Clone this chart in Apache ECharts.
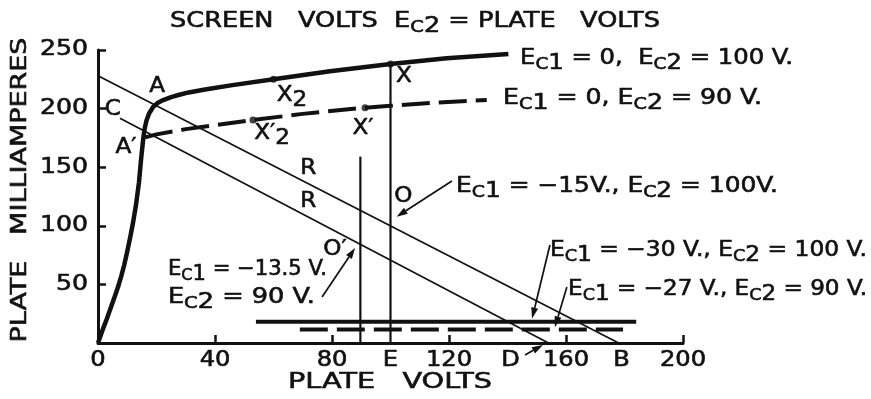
<!DOCTYPE html>
<html>
<head>
<meta charset="utf-8">
<script src="https://cdn.jsdelivr.net/npm/echarts@6/dist/echarts.min.js"></script>
<style>
  html, body { margin: 0; padding: 0; background: #fff; }
  #c { width: 871px; height: 399px; }
</style>
</head>
<body>
<div id="c"></div>
<script>
// Plate current (mA) against plate volts, screen tied to plate.
const curve100 = [[0,0],[1,7],[2,14],[3,20.5],[4,27.5],[5,34.5],[6,41.5],[7,49],[8,57.5],[9,67],
  [10,78],[11,90],[12,103],[13,118],[14,137],[14.7,156],[15.2,168],[15.6,177],[16.0,183.5],
  [16.6,190],[17.5,196],[18.9,201.6],[20.5,205],[22.3,207.3],[25,209.8],[27.5,211.6],[31,213.8],
  [36.6,216.3],[45.4,219.8],[60,225],[79.3,231.8],[100,238],[119.2,243],[140.3,246.6]];
const curve90 = [[16.1,175.5],[20,178],[30,182.5],[44.8,187.5],[53,190.3],[70,195.5],[91.3,200.8],
  [100,202.4],[115,205],[132.9,207.3]];
const loadLineB = [[0,228],[178,0]];
const loadLineD = [[7.5,191.7],[154,0]];
const ordinateE = [[100,238],[100,0]];
const ordinate90 = [[89.7,159],[89.7,0]];
const cutoff100 = [[54,18.2],[184,18.2]];
const cutoff90 = [[69,11.5],[179.5,11.5]];
const markedPoints = [[60,225],[100,238],[53,190.3],[91.3,200.8]];

const xTickValues = [0, 40, 80, 100, 120, 141, 160, 179, 200];
const xTickLabels = ['0', '40', '80', 'E', '120', 'D', '160', 'B', '200'];
const yTickValues = [50, 100, 150, 200, 250];
const yTickLabels = ['50', '100', '150', '200', '250'];

const ink = '#111';
const FAMILY = '"DejaVu Sans", sans-serif';

const chart = echarts.init(document.getElementById('c'));

function lineSeries(data, width, dash) {
  return {
    type: 'line', data, showSymbol: false, symbol: 'none', silent: true,
    smooth: false, animation: false, z: 3,
    lineStyle: { color: ink, width, type: dash || 'solid', cap: 'butt', join: 'round' }
  };
}

const axisCommon = {
  type: 'value',
  axisLine: { show: true, lineStyle: { color: ink, width: 3 } },
  axisTick: { show: true, inside: true, length: 8, lineStyle: { color: ink, width: 2.5 } },
  axisLabel: { show: false },
  splitLine: { show: false }
};

chart.setOption({
  animation: false,
  backgroundColor: '#fff',
  grid: { left: 98, right: 188, top: 50, bottom: 56 },
  xAxis: Object.assign({}, axisCommon, { min: 0, max: 200, interval: 40 }),
  yAxis: Object.assign({}, axisCommon, { min: 0, max: 250, interval: 50 }),
  series: [
    lineSeries(curve100, 4.5),
    lineSeries(curve90, 4, [28, 9]),
    lineSeries(loadLineB, 1.7),
    lineSeries(loadLineD, 1.7),
    lineSeries(ordinateE, 2.2),
    lineSeries(ordinate90, 2.2),
    lineSeries(cutoff100, 4),
    lineSeries(cutoff90, 4, [28, 9]),
    { type: 'scatter', data: markedPoints, symbolSize: 7, silent: true,
      itemStyle: { color: ink }, z: 5 }
  ]
});

// ---- lettering ----
const BASE = 21;
const RICH_DEF = {
  b: { size: 21, pad: 0 },   // capitals and figures
  c: { size: 16, pad: 8 },   // small "C" of Ec
  s: { size: 21, pad: 5 },   // subscript figure
  p: { size: 21, pad: 0 }    // prime
};
const mctx = document.createElement('canvas').getContext('2d');
function richStyles() {
  const r = {};
  for (const k in RICH_DEF) {
    r[k] = { fontSize: RICH_DEF[k].size, fontFamily: FAMILY, fill: ink,
             stroke: ink, lineWidth: 0.6,
             padding: [RICH_DEF[k].pad, 0, 0, 0], verticalAlign: 'top' };
  }
  return r;
}
function measure(parts) {
  let w = 0;
  for (const [t, k] of parts) {
    mctx.font = RICH_DEF[k].size + 'px ' + FAMILY;
    w += mctx.measureText(t).width;
  }
  return w;
}
function textEl(parts, px, py, o) {
  o = o || {};
  const sx = o.width ? o.width / measure(parts) : (o.scale || 1.2);
  return {
    type: 'text', x: px, y: py, rotation: o.rotation || 0, scaleX: sx, z: 100, silent: true,
    style: {
      text: parts.map(([t, k]) => '{' + k + '|' + t + '}').join(''),
      rich: richStyles(), x: 0, y: -BASE / 2, align: o.align || 'center', verticalAlign: 'top',
      fill: ink, font: BASE + 'px ' + FAMILY
    }
  };
}
const ec = n => [['E', 'b'], ['C', 'c'], [n, 's']];
const px = p => chart.convertToPixel({ gridIndex: 0 }, p);

function arrow(from, to) {
  const a = px(from), b = px(to);
  const dx = b[0] - a[0], dy = b[1] - a[1], L = Math.hypot(dx, dy);
  const ux = dx / L, uy = dy / L, hl = 11, hw = 3.5;
  const bx = b[0] - ux * hl, by = b[1] - uy * hl;
  return [
    { type: 'line', z: 90, silent: true, shape: { x1: a[0], y1: a[1], x2: bx, y2: by },
      style: { stroke: ink, lineWidth: 1.7 } },
    { type: 'polygon', z: 90, silent: true,
      shape: { points: [[b[0], b[1]], [bx - uy * hw, by + ux * hw], [bx + uy * hw, by - ux * hw]] },
      style: { fill: ink } }
  ];
}

const g = [];
// title and axis names
g.push(textEl([['SCREEN   VOLTS  ', 'b'], ...ec('2'), [' = PLATE   VOLTS', 'b']], 415, 22, { width: 490 }));
g.push(textEl([['PLATE   VOLTS', 'b']], 390, 383, { width: 204 }));
g.push(textEl([['PLATE   MILLIAMPERES', 'b']], 21, 190, { width: 305, rotation: Math.PI / 2 }));

// tick labels
xTickValues.forEach((v, i) => {
  const p = px([v, 0]);
  g.push(textEl([[xTickLabels[i], 'b']], p[0], 361, { scale: 1.15 }));
});
yTickValues.forEach((v, i) => {
  const p = px([0, v]);
  g.push(textEl([[yTickLabels[i], 'b']], 88, p[1], { scale: 1.2, align: 'right' }));
});

// point letters
const letters = [
  [[['A', 'b']], [20.2, 218.4]],
  [[['C', 'b']], [5.1, 198.8]],
  [[['A', 'b'], ['′', 'p']], [9.6, 166.4]],
  [[['X', 'b'], ['2', 's']], [66.3, 210.8]],
  [[['X', 'b']], [104.6, 227.4]],
  [[['X', 'b'], ['′', 'p'], ['2', 's']], [59.5, 178.3]],
  [[['X', 'b'], ['′', 'p']], [90.6, 183.2]],
  [[['R', 'b']], [71.9, 149]],
  [[['R', 'b']], [71.9, 120.6]],
  [[['O', 'b']], [104.4, 124.8]],
  [[['O', 'b'], ['′', 'p']], [81, 79.4]]
];
letters.forEach(([parts, at]) => {
  const p = px(at);
  g.push(textEl(parts, p[0], p[1], { scale: 1.1 }));
});

// curve captions
const captions = [
  [[...ec('1'), [' = 0,  ', 'b'], ...ec('2'), [' = 100 V.', 'b']], [144.3, 242.3], 273],
  [[...ec('1'), [' = 0, ', 'b'], ...ec('2'), [' = 90 V.', 'b']], [138.5, 208.2], 259],
  [[...ec('1'), [' = −15V., ', 'b'], ...ec('2'), [' = 100V.', 'b']], [122.4, 133.1], 322],
  [[...ec('1'), [' = −30 V., ', 'b'], ...ec('2'), [' = 100 V.', 'b']], [154.5, 78.5], 317],
  [[...ec('1'), [' = −27 V., ', 'b'], ...ec('2'), [' = 90 V.', 'b']], [160.7, 45.2], 299],
  [[...ec('1'), [' = −13.5 V.', 'b']], [23.9, 62.3], 159],
  [[...ec('2'), [' = 90 V.', 'b']], [23.9, 38.4], 147]
];
captions.forEach(([parts, at, w]) => {
  const p = px(at);
  g.push(textEl(parts, p[0], p[1], { width: w, align: 'left' }));
});

// leaders
g.push(...arrow([121, 138.2], [102.1, 107.8]));
g.push(...arrow([76.6, 39.2], [87.9, 81.1]));
g.push(...arrow([154.5, 83.6], [148.4, 20.8]));
g.push(...arrow([160.3, 47.8], [156.2, 13.5]));
g.push(...arrow([146, -10.2], [152.1, -1.7]));

chart.setOption({ graphic: g });
</script>
</body>
</html>
